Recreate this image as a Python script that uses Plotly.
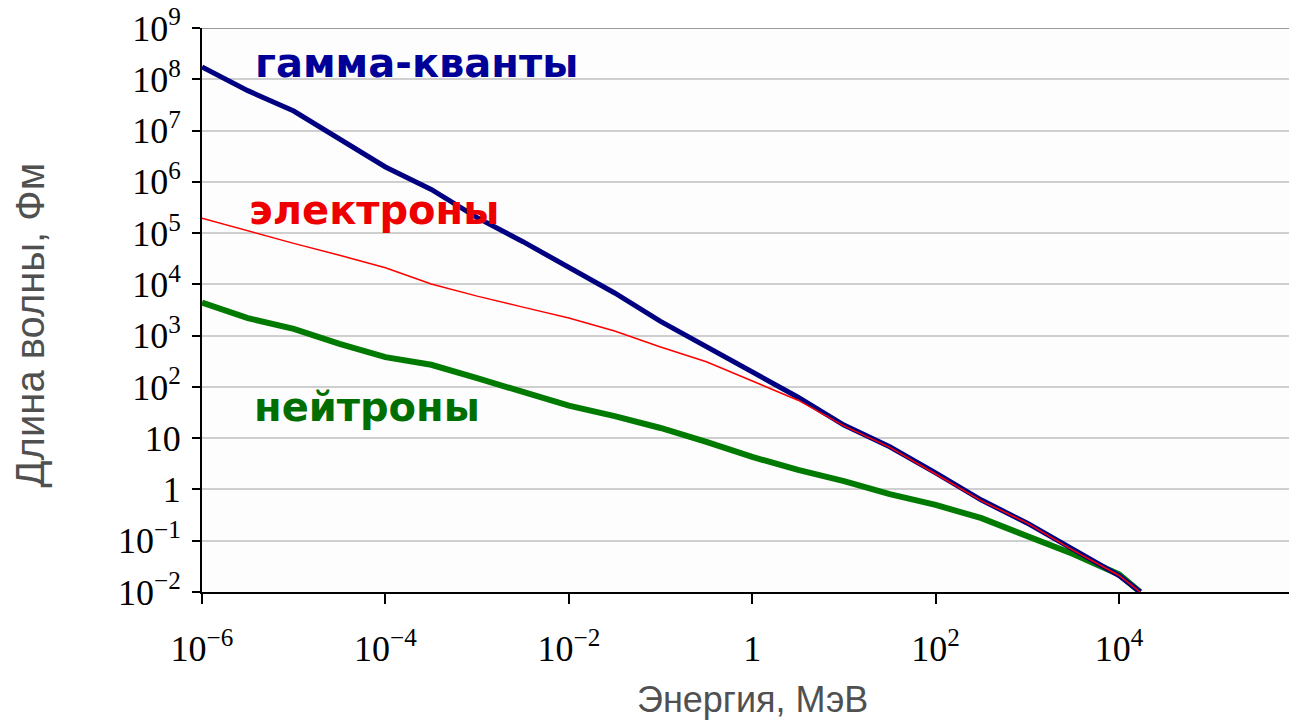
import plotly.graph_objects as go

# Energy grid, MeV (half-decade steps, last point at the chart floor)
energy = [1e-6, 3.16e-6, 1e-5, 3.16e-5, 1e-4, 3.16e-4, 1e-3, 3.16e-3, 1e-2, 3.16e-2,
          1e-1, 3.16e-1, 1, 3.16, 10, 31.6, 100, 316, 1e3, 3.16e3, 1e4, 1.7e4]

# Wavelength, fm
gamma = [1.74e8, 6.0e7, 2.4e7, 6.8e6, 1.95e6, 7.1e5, 2.0e5, 6.8e4, 2.1e4, 6.8e3,
         1.9e3, 600, 195, 63, 18, 6.8, 2.1, 0.62, 0.22, 0.066, 0.021, 0.01]
electrons = [1.95e5, 1.1e5, 6.3e4, 3.7e4, 2.1e4, 1.02e4, 5.9e3, 3.6e3, 2.2e3, 1.23e3,
             600, 310, 129, 55, 17.4, 6.6, 2.0, 0.60, 0.22, 0.065, 0.021, 0.01]
neutrons = [4.4e3, 2.2e3, 1.35e3, 690, 380, 270, 148, 79, 43, 27,
            15.8, 8.5, 4.3, 2.4, 1.45, 0.81, 0.50, 0.275, 0.123, 0.055, 0.022, 0.01]

y_tickvals = [1e-2, 1e-1, 1, 10, 1e2, 1e3, 1e4, 1e5, 1e6, 1e7, 1e8, 1e9]
y_ticktext = ["10<sup>−2</sup>", "10<sup>−1</sup>", "1", "10", "10<sup>2</sup>", "10<sup>3</sup>",
              "10<sup>4</sup>", "10<sup>5</sup>", "10<sup>6</sup>", "10<sup>7</sup>",
              "10<sup>8</sup>", "10<sup>9</sup>"]
x_tickvals = [1e-6, 1e-4, 1e-2, 1, 1e2, 1e4]
x_ticktext = ["10<sup>−6</sup>", "10<sup>−4</sup>", "10<sup>−2</sup>", "1",
              "10<sup>2</sup>", "10<sup>4</sup>"]

fig = go.Figure()
fig.add_trace(go.Scatter(x=energy, y=neutrons, mode="lines",
                         line=dict(color="#007a00", width=6)))
fig.add_trace(go.Scatter(x=energy, y=gamma, mode="lines",
                         line=dict(color="#000080", width=5)))
fig.add_trace(go.Scatter(x=energy, y=electrons, mode="lines",
                         line=dict(color="#ff0000", width=1.5)))

serif = "Liberation Serif, Times New Roman, serif"
sans = "Liberation Sans, Arial, sans-serif"
label_font = "DejaVu Sans, Verdana, sans-serif"

fig.update_layout(
    width=1289, height=722,
    margin=dict(l=202, r=0, t=28, b=130),
    paper_bgcolor="white", plot_bgcolor="#fdfdfd",
    showlegend=False,
    xaxis=dict(
        type="log", range=[-6, 5.853],
        tickvals=x_tickvals, ticktext=x_ticktext,
        ticks="outside", ticklen=10, tickwidth=2, tickcolor="black",
        showline=True, linecolor="black", linewidth=2,
        showgrid=False, zeroline=False,
        tickfont=dict(family=serif, size=36, color="black"),
        ticklabelstandoff=14,
    ),
    yaxis=dict(
        type="log", range=[-2, 9],
        tickvals=y_tickvals, ticktext=y_ticktext,
        ticks="outside", ticklen=8, tickwidth=2, tickcolor="black",
        showline=True, linecolor="black", linewidth=2,
        showgrid=True, gridcolor="#cfcfcf", gridwidth=2,
        zeroline=False,
        tickfont=dict(family=serif, size=36, color="black"),
        ticklabelstandoff=4,
    ),
    annotations=[
        dict(text="Длина волны, Фм", xref="paper", yref="paper", x=-0.158, y=0.473,
             textangle=-90, showarrow=False, xanchor="center", yanchor="middle",
             font=dict(family=sans, size=40, color="#505050")),
        dict(text="Энергия, МэВ", xref="x", yref="paper", x=0, y=-0.191,
             showarrow=False, xanchor="center", yanchor="middle",
             font=dict(family=sans, size=36, color="#505050")),
        dict(text="<b>гамма-кванты</b>", xref="paper", yref="paper", x=0.047, y=0.938,
             showarrow=False, xanchor="left", yanchor="middle",
             font=dict(family=label_font, size=40, color="#000099")),
        dict(text="<b>электроны</b>", xref="paper", yref="paper", x=0.041, y=0.677,
             showarrow=False, xanchor="left", yanchor="middle",
             font=dict(family=label_font, size=40, color="#ee0000")),
        dict(text="<b>нейтроны</b>", xref="paper", yref="paper", x=0.046, y=0.328,
             showarrow=False, xanchor="left", yanchor="middle",
             font=dict(family=label_font, size=40, color="#006e00")),
    ],
    shapes=[
        dict(type="line", xref="paper", yref="y", x0=0, x1=1, y0=1e9, y1=1e9,
             line=dict(color="#9a9a9a", width=2), layer="below"),
    ],
)

fig.write_html("out.html")
